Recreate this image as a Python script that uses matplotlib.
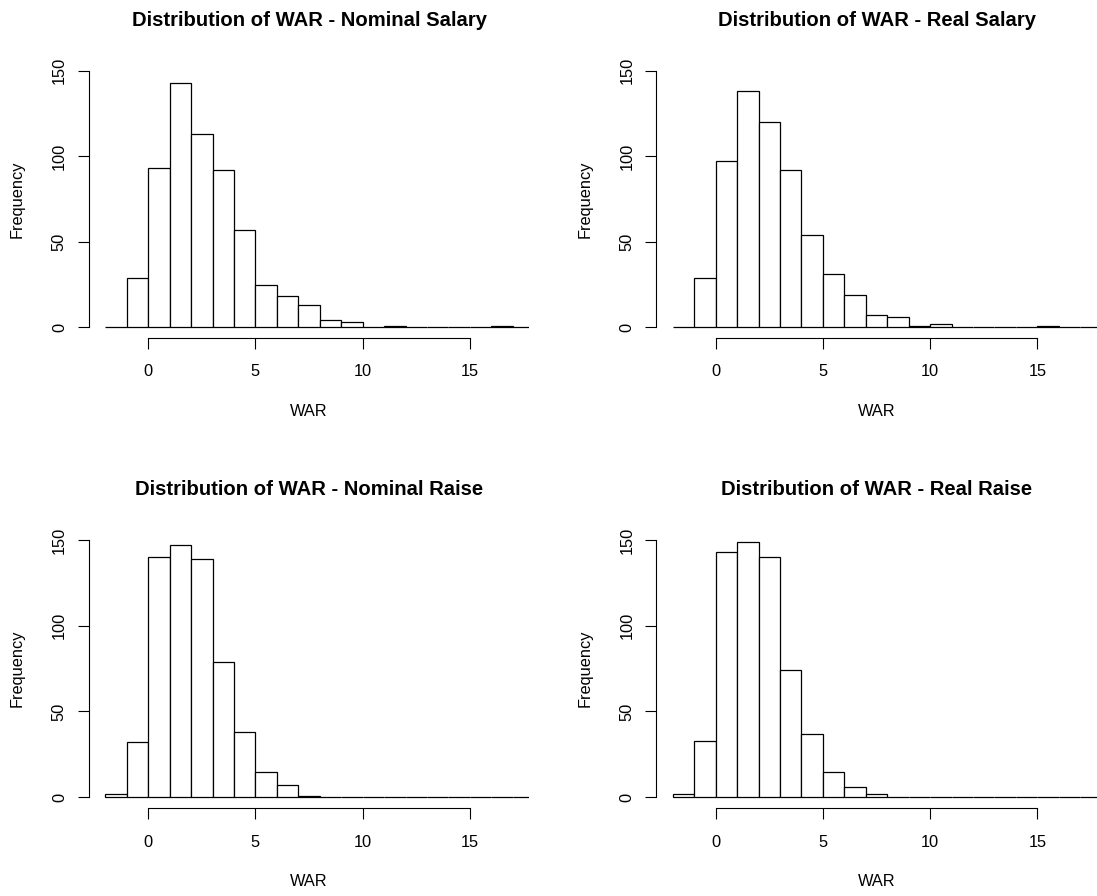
import numpy as np
import matplotlib
matplotlib.use("Agg")
import matplotlib.pyplot as plt

plt.rcParams['font.family'] = ['Liberation Sans', 'DejaVu Sans']

# bin edges (width 1) from -2 to 18
edges = np.arange(-2, 19)

# counts per bin: [-2,-1], [-1,0], [0,1], ... , [17,18]
nominal_salary = [0, 29, 93, 143, 113, 92, 57, 25, 18, 13, 4, 3, 0, 1, 0, 0, 0, 0, 1, 0]
real_salary = [0, 29, 97, 138, 120, 92, 54, 31, 19, 7, 6, 1, 2, 0, 0, 0, 0, 1, 0, 0]
nominal_raise = [2, 32, 140, 147, 139, 79, 38, 15, 7, 1, 0, 0, 0, 0, 0, 0, 0, 0, 0, 0]
real_raise = [2, 33, 143, 149, 140, 74, 37, 15, 6, 2, 0, 0, 0, 0, 0, 0, 0, 0, 0, 0]

titles = ["Distribution of WAR - Nominal Salary", "Distribution of WAR - Real Salary",
          "Distribution of WAR - Nominal Raise", "Distribution of WAR - Real Raise"]
series = [nominal_salary, real_salary, nominal_raise, real_raise]

xticks = [0, 5, 10, 15]
yticks = [0, 50, 100, 150]

fig = plt.figure(figsize=(10.97, 8.96), dpi=100)
positions = [[0.0811, 0.6233, 0.4012, 0.3092],
             [0.5984, 0.6233, 0.4012, 0.3092],
             [0.0811, 0.0987, 0.4012, 0.3102],
             [0.5984, 0.0987, 0.4012, 0.3102]]

for pos, counts, title in zip(positions, series, titles):
    ax = fig.add_axes(pos)
    ax.hist(edges[:-1], bins=edges, weights=counts, histtype='bar',
            facecolor='white', edgecolor='black', linewidth=0.9)
    ax.set_xlim(-2.76, 17.76)
    ax.set_ylim(-6, 156)

    for s in ['top', 'right']:
        ax.spines[s].set_visible(False)
    ax.spines['left'].set_bounds(0, 150)
    ax.spines['bottom'].set_bounds(0, 15)
    ax.spines['left'].set_linewidth(0.8)
    ax.spines['bottom'].set_linewidth(0.8)

    ax.set_xticks(xticks)
    ax.set_yticks(yticks)
    ax.tick_params(axis='both', direction='out', length=7.9, width=0.8,
                   labelsize=11.8, colors='black')
    ax.tick_params(axis='x', pad=11.5)
    ax.tick_params(axis='y', pad=8)
    plt.setp(ax.get_yticklabels(), rotation=90, va='center')

    ax.text(0.5, 1.146, title, transform=ax.transAxes, ha='center', va='center',
            fontsize=14.6, fontweight='bold')
    ax.text(0.5, -0.267, "WAR", transform=ax.transAxes, ha='center', va='center',
            fontsize=11.8)
    ax.text(-0.1625, 0.5, "Frequency", transform=ax.transAxes, ha='center', va='center',
            rotation=90, fontsize=11.8)

plt.savefig('out.png', dpi=100)
